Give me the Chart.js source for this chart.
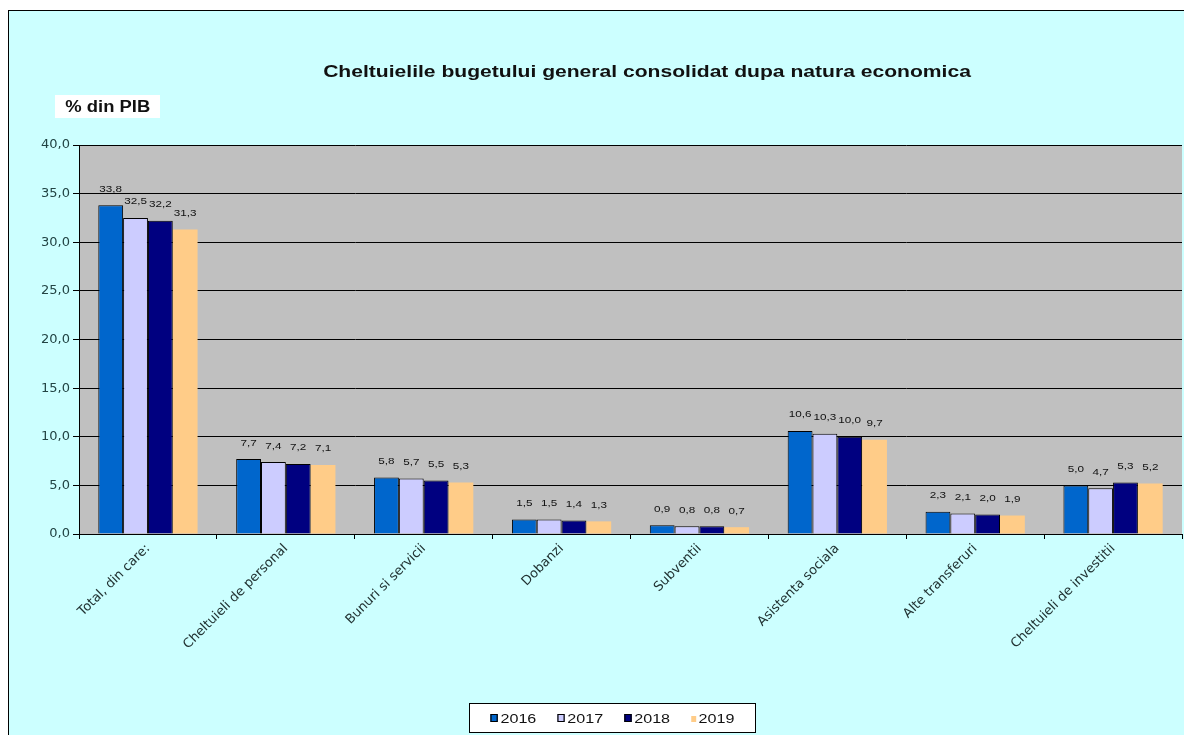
<!DOCTYPE html>
<html>
<head>
<meta charset="utf-8">
<script src="https://cdn.jsdelivr.net/npm/chart.js@4"></script>
<style>
  body { margin: 0; background: #fff; font-family: "Liberation Sans", Arial, sans-serif; }
  #frame { position: absolute; left: 8px; top: 10px; width: 1176px; height: 725px;
           border-top: 1px solid #000; border-left: 1px solid #000; background: #ccffff; overflow: hidden; }
  #chartCanvas { position: absolute; left: 0; top: 0; }
  #title { position: absolute; left: 0; width: 1276px; top: 51px; text-align: center;
           font-weight: bold; font-size: 17px; color: #111; transform: scaleX(1.24); transform-origin: 638px 0; }
  #unit { position: absolute; left: 46px; top: 84px; width: 105px; height: 23px; background: #fff; }
  #unit div { font-weight: bold; font-size: 16px; line-height: 23px; padding-left: 9px; color: #111;
              transform: scaleX(1.15); transform-origin: 0 0; white-space: nowrap; }
  #legend { position: absolute; left: 460px; top: 692px; width: 287px; height: 30px; background: #fff;
            border: 1px solid #000; box-sizing: border-box; }
  #legendItems { display: flex; align-items: center; justify-content: center; gap: 17px; height: 28px;
                 font-size: 13px; color: #111; transform: scaleX(1.24); transform-origin: 50% 0; }
  #legendItems span.sw { display: inline-block; width: 4px; height: 6px; margin-right: 2px; vertical-align: 1px; }
</style>
</head>
<body>
<div id="frame">
  <canvas id="chartCanvas" width="1175" height="724"></canvas>
  <div id="title">Cheltuielile bugetului general consolidat dupa natura economica</div>
  <div id="unit"><div>% din PIB</div></div>
  <div id="legend"><div id="legendItems"></div></div>
</div>
<script>
const categories = ['Total, din care:', 'Cheltuieli de personal', 'Bunuri si servicii', 'Dobanzi',
                    'Subventii', 'Asistenta sociala', 'Alte transferuri', 'Cheltuieli de investitii'];
const years = ['2016', '2017', '2018', '2019'];
const values2016 = [33.8, 7.7, 5.8, 1.5, 0.9, 10.6, 2.3, 5.0];
const values2017 = [32.5, 7.4, 5.7, 1.5, 0.8, 10.3, 2.1, 4.7];
const values2018 = [32.2, 7.2, 5.5, 1.4, 0.8, 10.0, 2.0, 5.3];
const values2019 = [31.3, 7.1, 5.3, 1.3, 0.7, 9.7, 1.9, 5.2];
const colors = ['#0066cc', '#ccccff', '#000080', '#ffcc88'];

const allValues = [values2016, values2017, values2018, values2019];

const fmt = v => v.toFixed(1).replace('.', ',');

// plot area background
const plotBg = {
    id: 'plotBg',
    beforeDraw(chart) {
        const a = chart.chartArea;
        const ctx = chart.ctx;
        ctx.save();
        ctx.fillStyle = '#c0c0c0';
        ctx.fillRect(a.left, a.top, a.right - a.left, a.bottom - a.top);
        ctx.restore();
    }
};

// value labels above bars (text a bit stretched, like the original)
const valueLabels = {
    id: 'valueLabels',
    afterDatasetsDraw(chart) {
        const ctx = chart.ctx;
        ctx.save();
        ctx.font = '9px "Liberation Sans", Arial, sans-serif';
        ctx.fillStyle = '#111';
        ctx.textAlign = 'center';
        ctx.textBaseline = 'middle';
        chart.data.datasets.forEach((ds, i) => {
            chart.getDatasetMeta(i).data.forEach((bar, j) => {
                ctx.save();
                ctx.translate(bar.x, bar.y - 16);
                ctx.scale(1.3, 1);
                ctx.fillText(fmt(ds.data[j]), 0, 0);
                ctx.restore();
            });
        });
        ctx.restore();
    }
};

const ctx = document.getElementById('chartCanvas').getContext('2d');
const chart = new Chart(ctx, {
    type: 'bar',
    data: {
        labels: categories,
        datasets: years.map((y, i) => ({
            label: y,
            data: allValues[i],
            backgroundColor: colors[i],
            borderColor: '#000',
            borderWidth: i === 3 ? 0 : 1,
            categoryPercentage: 0.72,
            barPercentage: 1
        }))
    },
    options: {
        responsive: false,
        animation: false,
        devicePixelRatio: 1,
        layout: { padding: { left: 0, right: 2, top: 134, bottom: 11 } },
        plugins: {
            legend: { display: false },
            tooltip: { enabled: false }
        },
        scales: {
            x: {
                afterFit: s => { s.height = 190; },
                grid: { display: true, drawOnChartArea: false, drawTicks: true, tickLength: 5,
                        color: '#000', offset: true },
                border: { color: '#000', width: 1 },
                ticks: {
                    minRotation: 45, maxRotation: 45, autoSkip: false, padding: 2,
                    color: '#223333',
                    font: { family: '"DejaVu Sans", sans-serif', size: 13 }
                }
            },
            y: {
                min: 0, max: 40,
                afterFit: s => { s.width = 70; },
                grid: { color: '#000', lineWidth: 1, tickLength: 6 },
                border: { color: '#000', width: 1 },
                ticks: {
                    stepSize: 5, padding: 3, color: '#224444',
                    font: { family: '"DejaVu Sans", sans-serif', size: 13 },
                    callback: v => fmt(v)
                }
            }
        }
    },
    plugins: [plotBg, valueLabels]
});

// legend
const legendBox = document.getElementById('legendItems');
years.forEach((y, i) => {
    const item = document.createElement('div');
    const border = i === 3 ? 'none' : '1px solid #000';
    item.innerHTML = `<span class="sw" style="background:${colors[i]};border:${border}"></span>${y}`;
    legendBox.appendChild(item);
});
</script>
</body>
</html>
